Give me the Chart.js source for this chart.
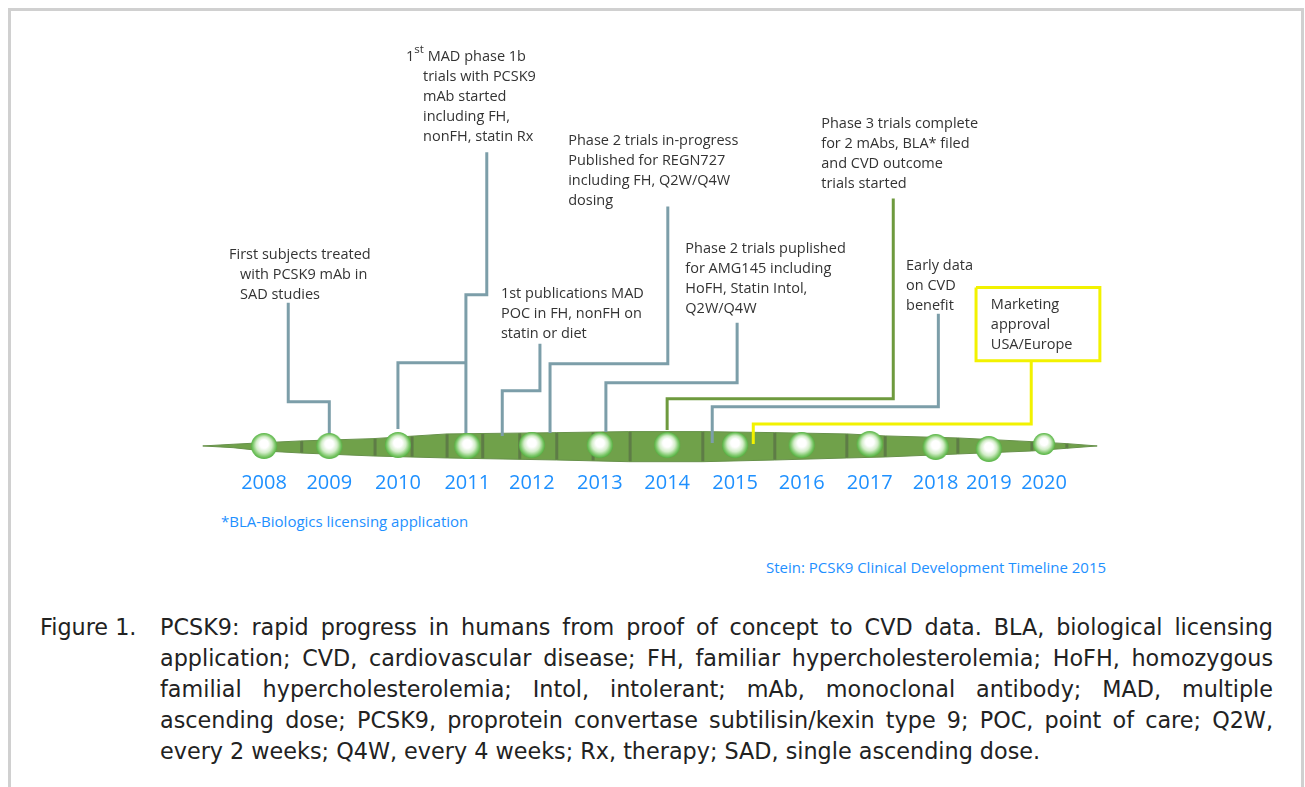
<!DOCTYPE html>
<html>
<head>
<meta charset="utf-8">
<title>PCSK9 clinical development timeline</title>
<script src="https://cdn.jsdelivr.net/npm/chart.js@4.4.1/dist/chart.umd.min.js"></script>
<style>
  html, body { margin: 0; padding: 0; background: #fff; }
  body { width: 1305px; height: 787px; position: relative; overflow: hidden; font-family: "Open Sans", sans-serif; }
  #frame { position: absolute; left: 8px; top: 8px; width: 1290px; height: 800px; border: 3px solid #d0d0d0; border-bottom: none; }
  #timeline { position: absolute; left: 0; top: 0; }
  .blue { position: absolute; color: #1e90ff; line-height: 20px; white-space: nowrap; font-size: 15px; }
  #note { left: 221px; top: 511px; }
  #source { left: 766px; top: 557px; }
  #caption { position: absolute; left: 40px; top: 612px; font-family: "DejaVu Sans", sans-serif; font-size: 22.3px; line-height: 31px; color: #222; }
  #caption .lbl { position: absolute; left: 0; top: 0; white-space: nowrap; }
  #caption .body { position: absolute; left: 120px; top: 0; width: 1113px; }
  #caption .body div { text-align: justify; text-align-last: justify; white-space: nowrap; }
  #caption .body div.last { text-align-last: left; }
</style>
</head>
<body>
<div id="frame"></div>
<canvas id="timeline" width="1305" height="499"></canvas>
<div id="note" class="blue">*BLA-Biologics licensing application</div>
<div id="source" class="blue">Stein: PCSK9 Clinical Development Timeline 2015</div>
<div id="caption">
  <div class="lbl">Figure 1.</div>
  <div class="body">
    <div>PCSK9: rapid progress in humans from proof of concept to CVD data. BLA, biological licensing</div>
    <div>application; CVD, cardiovascular disease; FH, familiar hypercholesterolemia; HoFH, homozygous</div>
    <div>familial hypercholesterolemia; Intol, intolerant; mAb, monoclonal antibody; MAD, multiple</div>
    <div>ascending dose; PCSK9, proprotein convertase subtilisin/kexin type 9; POC, point of care; Q2W,</div>
    <div class="last">every 2 weeks; Q4W, every 4 weeks; Rx, therapy; SAD, single ascending dose.</div>
  </div>
</div>
<script>
// year markers along the timeline (x in timeline years, y = offset from the band centre)
const years = ["2008", "2009", "2010", "2011", "2012", "2013", "2014", "2015", "2016", "2017", "2018", "2019", "2020"];
const yearPos = [2008.00, 2008.97, 2009.99, 2011.02, 2011.98, 2012.99, 2013.99, 2015.00, 2015.99, 2017.00, 2017.98, 2018.77, 2019.59];
const yearLift = [0, 0, 1, 0, 1, 1, 1, 1, 1, 2, -1, -3, 2];

// outline of the green band (tapered both ends)
const bandX = [2007.09, 2007.54, 2008.00, 2008.54, 2009.62, 2010.72, 2012.35, 2013.42, 2014.52, 2015.59, 2016.66, 2017.23, 2018.31, 2019.41, 2019.93, 2020.38];
const bandTop = [0, 1.7, 3.3, 5, 7.3, 12, 13.3, 14.3, 14.3, 13.3, 12, 10, 8, 4.3, 2.3, 0];
const bandBottom = [0, -1.7, -5, -7, -10, -12, -14, -15.7, -15.7, -14, -12, -11, -8, -5, -2.3, 0];
const bandJoints = [2008.56, 2009.65, 2010.20, 2010.72, 2011.25, 2011.80, 2012.35, 2012.89, 2013.44, 2014.52, 2015.59, 2016.66, 2017.23, 2018.31, 2019.41, 2019.93];

// milestones: text block (top line) and the elbow connector down to the band
const notes = [
  {x: 2007.48, y: 191, indent: 11, lines: ["First subjects treated", "with PCSK9 mAb in", "SAD studies"]},
  {x: 2010.11, y: 388, indent: 17, lines: ["1^st MAD phase 1b", "trials with PCSK9", "mAb started", "including FH,", "nonFH, statin Rx"]},
  {x: 2011.52, y: 152, indent: 0, lines: ["1st publications MAD", "POC in FH, nonFH on", "statin or diet"]},
  {x: 2012.52, y: 304, indent: 0, lines: ["Phase 2 trials in-progress", "Published for REGN727", "including FH, Q2W/Q4W", "dosing"]},
  {x: 2014.26, y: 197, indent: 0, lines: ["Phase 2 trials puplished", "for AMG145 including", "HoFH, Statin Intol,", "Q2W/Q4W"]},
  {x: 2016.28, y: 321, indent: 0, lines: ["Phase 3 trials complete", "for 2 mAbs, BLA* filed", "and CVD outcome", "trials started"]},
  {x: 2017.54, y: 180, indent: 0, lines: ["Early data", "on CVD", "benefit"]},
  {x: 2018.80, y: 141, indent: 0, lines: ["Marketing", "approval", "USA/Europe"]}
];
const links = [
  [[2008.36, 143], [2008.36, 44], [2008.97, 44], [2008.97, 12]],
  [[2011.31, 293], [2011.31, 151], [2011.00, 151], [2011.00, 13]],
  [[2011.00, 83], [2009.99, 83], [2009.99, 17]],
  [[2012.10, 102], [2012.10, 55], [2011.54, 55], [2011.54, 10]],
  [[2014.00, 239], [2014.00, 82], [2012.25, 82], [2012.25, 13]],
  [[2015.03, 123], [2015.03, 63], [2013.08, 63], [2013.08, 14]],
  [[2017.35, 247], [2017.35, 47], [2013.99, 47], [2013.99, 16]],
  [[2018.02, 132], [2018.02, 39], [2014.66, 39], [2014.66, 3]],
  [[2019.40, 85], [2019.40, 22], [2015.27, 22], [2015.27, 2]]
];
const approvalBox = [[2018.58, 158], [2020.42, 158], [2020.42, 85], [2018.58, 85], [2018.58, 158]];

const linkColor = i => i === 6 ? "#6e9a3e" : i === 8 ? "#f2f200" : "#7c9ea9";

function ballImage(r) {
  const c = document.createElement("canvas");
  c.width = c.height = r * 2 + 2;
  const g = c.getContext("2d");
  const m = r + 1;
  const grad = g.createRadialGradient(m, m - 3, 0.5, m, m, r);
  grad.addColorStop(0, "#ffffff");
  grad.addColorStop(0.3, "#ffffff");
  grad.addColorStop(0.6, "#d3edc9");
  grad.addColorStop(0.85, "#7fc96c");
  grad.addColorStop(1, "#55b243");
  g.fillStyle = grad;
  g.beginPath();
  g.arc(m, m, r, 0, Math.PI * 2);
  g.fill();
  return c;
}
const bigBall = ballImage(13);
const smallBall = ballImage(11);

function edgeAt(arr, v) {
  for (let i = 1; i < bandX.length; i++) {
    if (v <= bandX[i]) {
      const t = (v - bandX[i - 1]) / (bandX[i] - bandX[i - 1]);
      return arr[i - 1] + t * (arr[i] - arr[i - 1]);
    }
  }
  return 0;
}

const bandJointPlugin = {
  id: "bandJoints",
  beforeDatasetsDraw(chart) {
    const {ctx, scales: {x, y}} = chart;
    ctx.save();
    ctx.strokeStyle = "#5e7c46";
    ctx.lineWidth = 3;
    for (const v of bandJoints) {
      const px = x.getPixelForValue(v);
      ctx.beginPath();
      ctx.moveTo(px, y.getPixelForValue(edgeAt(bandTop, v)));
      ctx.lineTo(px, y.getPixelForValue(edgeAt(bandBottom, v)));
      ctx.stroke();
    }
    ctx.restore();
  }
};

const notePlugin = {
  id: "notes",
  afterDatasetsDraw(chart) {
    const {ctx, scales: {x, y}} = chart;
    const font = '14.5px "Open Sans"';
    ctx.save();
    ctx.fillStyle = "#333";
    ctx.textBaseline = "middle";
    ctx.textAlign = "left";
    for (const n of notes) {
      const left = x.getPixelForValue(n.x);
      let py = y.getPixelForValue(n.y);
      n.lines.forEach((line, i) => {
        let lx = left + (i > 0 ? n.indent : 0);
        ctx.font = font;
        if (line.includes("^")) {
          const [base, rest] = line.split("^");
          ctx.fillText(base, lx, py);
          lx += ctx.measureText(base).width;
          ctx.font = '11.5px "Open Sans"';
          ctx.fillText("st", lx, py - 7);
          lx += ctx.measureText("st").width;
          ctx.font = font;
          ctx.fillText(rest.slice(2), lx, py);
        } else {
          ctx.fillText(line, lx, py);
        }
        py += 20;
      });
    }
    ctx.restore();
  }
};

const datasets = [
  {
    data: bandX.map((v, i) => ({x: v, y: bandTop[i]})),
    showLine: true, fill: "+1", order: 10,
    backgroundColor: "#70a14a", borderColor: "#67914a", borderWidth: 1, pointRadius: 0
  },
  {
    data: bandX.map((v, i) => ({x: v, y: bandBottom[i]})),
    showLine: true, fill: false, order: 10,
    borderColor: "#67914a", borderWidth: 1, pointRadius: 0
  },
  ...links.map((pts, i) => ({
    data: pts.map(p => ({x: p[0], y: p[1]})),
    showLine: true, fill: false, order: 5,
    borderColor: linkColor(i), borderWidth: 3, pointRadius: 0,
    borderJoinStyle: "miter", borderCapStyle: "butt"
  })),
  {
    data: approvalBox.map(p => ({x: p[0], y: p[1]})),
    showLine: true, fill: false, order: 5,
    borderColor: "#f2f200", borderWidth: 3, pointRadius: 0, borderJoinStyle: "miter"
  },
  {
    data: yearPos.map((v, i) => ({x: v, y: yearLift[i]})),
    showLine: false, order: 1,
    pointStyle: ctx => ctx.dataIndex === years.length - 1 ? smallBall : bigBall,
    pointRadius: 13
  }
];

const chart = new Chart(document.getElementById("timeline"), {
  type: "scatter",
  data: {datasets},
  options: {
    responsive: false,
    animation: false,
    events: [],
    layout: {padding: 0, autoPadding: false},
    plugins: {
      legend: {display: false},
      tooltip: {enabled: false},
      filler: {drawTime: "beforeDatasetsDraw"}
    },
    scales: {
      x: {
        type: "linear",
        min: 2004.077,
        max: 2023.468,
        grid: {display: false, drawTicks: false},
        border: {display: false},
        afterBuildTicks: s => { s.ticks = yearPos.map(v => ({value: v})); },
        ticks: {
          autoSkip: false,
          maxRotation: 0,
          padding: 4,
          color: "#1e90ff",
          font: {family: "Open Sans", size: 20},
          callback: (v, i) => years[i]
        }
      },
      y: {
        display: false,
        min: -21,
        max: 445
      }
    }
  },
  plugins: [bandJointPlugin, notePlugin]
});
</script>
</body>
</html>
